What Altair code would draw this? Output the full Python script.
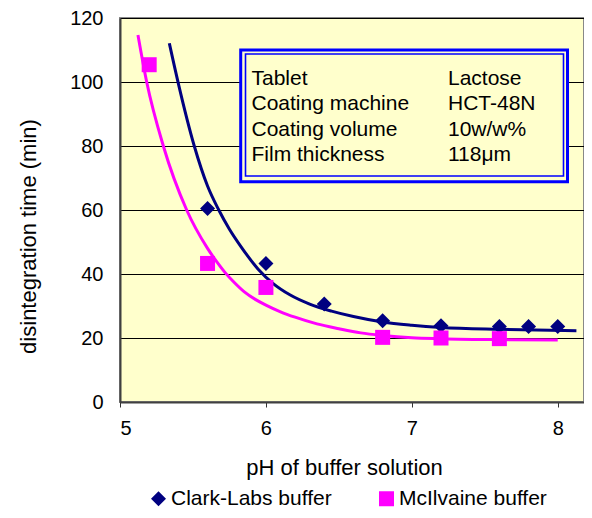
import altair as alt
import pandas as pd

# ---- data ----
series = ["Clark-Labs buffer", "McIlvaine buffer"]
colors = ["#000080", "#FF00FF"]
shapes = ["diamond", "square"]

clark_ph = [5.6, 6.0, 6.4, 6.8, 7.2, 7.6, 7.8, 8.0]
clark_time = [60.5, 43.3, 30.6, 25.4, 23.8, 23.6, 23.6, 23.6]
mcil_ph = [5.2, 5.6, 6.0, 6.8, 7.2, 7.6]
mcil_time = [105.4, 43.3, 35.8, 20.2, 20.0, 19.8]

# fitted trend curves
clark_curve_ph = [5.338, 5.40, 5.509, 5.60, 5.677, 5.75, 5.83, 5.947, 6.05, 6.164,
                  6.30, 6.45, 6.60, 6.80, 7.0, 7.2, 7.6, 8.128]
clark_curve_time = [112.1, 99.5, 80, 67.5, 60, 54, 48.5, 41.5, 37.0, 33.5,
                    30.6, 28.4, 26.7, 25.0, 24.0, 23.3, 22.7, 22.3]
mcil_curve_ph = [5.123, 5.183, 5.297, 5.457, 5.60, 5.66, 5.719, 5.78, 5.85, 5.93, 6.0,
                 6.1, 6.2, 6.35, 6.5, 6.65, 6.8, 7.0, 7.2, 7.6, 8.0]
mcil_curve_time = [114.7, 100, 80, 60, 48, 44, 40.5, 37.5, 34.5, 32, 30.3,
                   28.2, 26.5, 24.4, 22.9, 21.6, 20.8, 20.1, 19.8, 19.5, 19.4]

info_labels = ["Tablet", "Coating machine", "Coating volume", "Film thickness"]
info_values = ["Lactose", "HCT-48N", "10w/w%", "118μm"]

x_ticks = [5, 6, 7, 8]
y_ticks = [0, 20, 40, 60, 80, 100, 120]

# ---- tables ----
points = pd.concat([
    pd.DataFrame({"ph": clark_ph, "time": clark_time, "series": series[0]}),
    pd.DataFrame({"ph": mcil_ph, "time": mcil_time, "series": series[1]}),
])
clark_curve = pd.DataFrame({"ph": clark_curve_ph, "time": clark_curve_time})
mcil_curve = pd.DataFrame({"ph": mcil_curve_ph, "time": mcil_curve_time})

FONT = "Liberation Sans"

x_enc = alt.X(
    "ph:Q",
    scale=alt.Scale(domain=[5, 8.18], nice=False, zero=False),
    axis=alt.Axis(
        values=x_ticks, format="d", grid=False, tickSize=5, tickColor="#333333",
        domainColor="#404040", domainWidth=2, labelFontSize=20, labelPadding=11,
        labelColor="black", labelFont=FONT,
        titleFontSize=22, titleFont=FONT, titleFontWeight="normal", titleColor="black",
        titleX=224, titleY=65, titleBaseline="middle", titleAlign="center",
    ),
    title="pH of buffer solution",
)
y_enc = alt.Y(
    "time:Q",
    scale=alt.Scale(domain=[0, 120], nice=False),
    axis=alt.Axis(
        values=y_ticks, grid=True, gridColor="black", gridWidth=1, ticks=False,
        domainColor="#404040", domainWidth=2, labelFontSize=20, labelPadding=17,
        labelColor="black", labelFont=FONT,
        titleFontSize=22, titleFont=FONT, titleFontWeight="normal", titleColor="black",
        titleX=-92, titleY=218, titleAngle=270, titleBaseline="middle", titleAlign="center",
    ),
    title="disintegration time (min)",
)
color_enc = alt.Color(
    "series:N",
    scale=alt.Scale(domain=series, range=colors),
    legend=alt.Legend(
        orient="none", legendX=28, legendY=470, direction="horizontal", title=None,
        labelFontSize=21, labelFont=FONT, labelColor="black", labelLimit=400,
        symbolSize=225, symbolStrokeWidth=0, labelOffset=2, columnPadding=44, padding=0,
    ),
)
shape_enc = alt.Shape("series:N", scale=alt.Scale(domain=series, range=shapes))

line_clark = alt.Chart(clark_curve).mark_line(
    strokeWidth=3, interpolate="monotone", color=colors[0]
).encode(x=x_enc, y=y_enc)
line_mcil = alt.Chart(mcil_curve).mark_line(
    strokeWidth=3, interpolate="monotone", color=colors[1]
).encode(x=x_enc, y=y_enc)
pts = alt.Chart(points).mark_point(filled=True, size=225, opacity=1, strokeWidth=0).encode(
    x=x_enc, y=y_enc, color=color_enc, shape=shape_enc,
)

one = pd.DataFrame({"k": [0]})
box_outer = alt.Chart(one).mark_rect(fill="#FFFFCC", stroke="#0000FF", strokeWidth=3).encode(
    x=alt.value(120.7), x2=alt.value(447.5), y=alt.value(32), y2=alt.value(163.7)
)
box_inner = alt.Chart(one).mark_rect(fillOpacity=0, stroke="#0000FF", strokeWidth=1.6).encode(
    x=alt.value(125.5), x2=alt.value(443.5), y=alt.value(36), y2=alt.value(158)
)
txt_left = alt.Chart(pd.DataFrame({"t": [info_labels]})).mark_text(
    align="left", baseline="alphabetic", fontSize=21, font=FONT, lineHeight=25.4, color="black"
).encode(text="t", x=alt.value(131.5), y=alt.value(67))
txt_right = alt.Chart(pd.DataFrame({"t": [info_values]})).mark_text(
    align="left", baseline="alphabetic", fontSize=21, font=FONT, lineHeight=25.4, color="black"
).encode(text="t", x=alt.value(328), y=alt.value(67))

chart = alt.layer(box_outer, box_inner, line_clark, line_mcil, pts, txt_left, txt_right).properties(
    width=464, height=384,
    autosize=alt.AutoSizeParams(type="none"),
    padding={"left": 112, "top": 10, "right": 0, "bottom": 108},
    background="white",
).configure_view(fill="#FFFFCC", stroke="#888888", strokeWidth=2)

chart.save("out.html", embed_options={"renderer": "svg", "actions": False})
